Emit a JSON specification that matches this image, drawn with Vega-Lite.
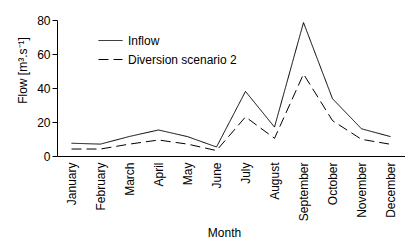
{
  "$schema": "https://vega.github.io/schema/vega-lite/v6.json",
  "autosize": {"type": "none"},
  "padding": {"left": 57, "top": 20, "right": 0, "bottom": 85},
  "width": 348,
  "height": 136,
  "background": "white",
  "config": {
    "view": {"stroke": null},
    "font": "Liberation Sans",
    "axis": {"labelFont": "Liberation Sans", "titleFont": "Liberation Sans", "labelColor": "#000", "titleColor": "#000", "domainColor": "#000", "tickColor": "#000", "grid": false, "labelFontSize": 12, "titleFontSize": 12, "titleFontWeight": "normal"},
    "legend": {"labelFont": "Liberation Sans", "labelColor": "#000", "labelFontSize": 12}
  },
  "data": {
    "values": [
      {"month": "January", "series": "Inflow", "flow": 7.5},
      {"month": "February", "series": "Inflow", "flow": 7},
      {"month": "March", "series": "Inflow", "flow": 11.5},
      {"month": "April", "series": "Inflow", "flow": 15.3},
      {"month": "May", "series": "Inflow", "flow": 11.4},
      {"month": "June", "series": "Inflow", "flow": 5.3},
      {"month": "July", "series": "Inflow", "flow": 38},
      {"month": "August", "series": "Inflow", "flow": 17},
      {"month": "September", "series": "Inflow", "flow": 78.5},
      {"month": "October", "series": "Inflow", "flow": 33.7},
      {"month": "November", "series": "Inflow", "flow": 16},
      {"month": "December", "series": "Inflow", "flow": 11.4},
      {"month": "January", "series": "Diversion scenario 2", "flow": 4.1},
      {"month": "February", "series": "Diversion scenario 2", "flow": 4.1},
      {"month": "March", "series": "Diversion scenario 2", "flow": 7},
      {"month": "April", "series": "Diversion scenario 2", "flow": 9.4},
      {"month": "May", "series": "Diversion scenario 2", "flow": 7},
      {"month": "June", "series": "Diversion scenario 2", "flow": 3.2},
      {"month": "July", "series": "Diversion scenario 2", "flow": 23},
      {"month": "August", "series": "Diversion scenario 2", "flow": 10.4},
      {"month": "September", "series": "Diversion scenario 2", "flow": 48.2},
      {"month": "October", "series": "Diversion scenario 2", "flow": 20.8},
      {"month": "November", "series": "Diversion scenario 2", "flow": 9.8},
      {"month": "December", "series": "Diversion scenario 2", "flow": 6.9}
    ]
  },
  "mark": {"type": "line", "color": "#000", "strokeWidth": 1},
  "encoding": {
    "x": {
      "field": "month", "type": "ordinal", "sort": null,
      "scale": {"type": "point", "padding": 0.5},
      "axis": {"title": "Month", "labelAngle": -90, "labelAlign": "right", "labelBaseline": "middle", "labelPadding": 6, "ticks": false, "titleX": 167, "titleY": 76, "titleAlign": "center", "titleBaseline": "middle"}
    },
    "y": {
      "field": "flow", "type": "quantitative",
      "scale": {"domain": [0, 80], "nice": false},
      "axis": {"title": "Flow [m³.s⁻¹]", "values": [0, 20, 40, 60, 80], "tickSize": 5, "labelPadding": 2, "titleAngle": -90, "titleX": -35, "titleY": 50, "titleAlign": "center", "titleBaseline": "middle"}
    },
    "strokeDash": {
      "field": "series", "type": "nominal",
      "scale": {"domain": ["Inflow", "Diversion scenario 2"], "range": [[1, 0], [10, 5]]},
      "legend": {"title": null, "orient": "none", "legendX": 41, "legendY": 8, "symbolType": "stroke", "symbolSize": 576, "symbolStrokeColor": "#000", "symbolStrokeWidth": 1, "labelOffset": 5, "rowPadding": -1}
    }
  }
}
